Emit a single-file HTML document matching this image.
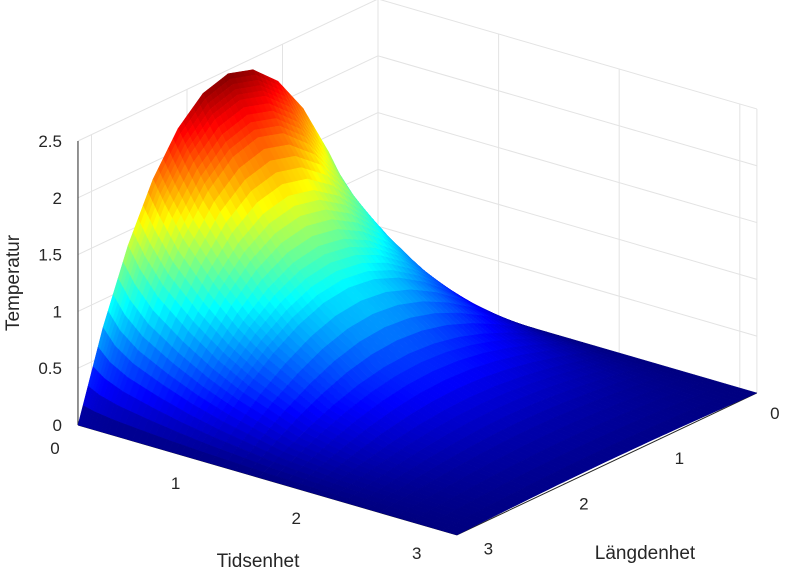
<!DOCTYPE html>
<html><head><meta charset="utf-8">
<style>
html,body{margin:0;padding:0;background:#fff;}
svg{display:block;font-family:"Liberation Sans",sans-serif;}
</style></head>
<body>
<svg id="chart" width="786" height="572" viewBox="0 0 786 572" xmlns="http://www.w3.org/2000/svg">
<g id="grid"></g>
<g id="axes"></g>
<g id="surf"></g>
<g id="labels"></g>
<text x="19" y="283" font-size="19" fill="#262626" text-anchor="middle" transform="rotate(-90 19 283)">Temperatur</text>
<text x="258" y="567" font-size="19" fill="#262626" text-anchor="middle">Tidsenhet</text>
<text x="645" y="559" font-size="19" fill="#262626" text-anchor="middle">Längdenhet</text>
</svg>
<script>
const timeValues = [0, 0.1, 0.25, 0.5, 0.75, 1, 1.5, 2, 2.5, 3.1416];
const lengthValues = [0,0.2618,0.5236,0.7854,1.0472,1.309,1.5708,1.8326,2.0944,2.3562,2.618,2.8798,3.1416];
const tempRow0 = [0,.754,1.371,1.851,2.193,2.399,2.467,2.399,2.193,1.851,1.371,.754,0];
const tempRow1 = [0,.623,1.190,1.656,1.995,2.198,2.266,2.198,1.995,1.656,1.190,.623,0];
const tempRow2 = [0,.513,.992,1.402,1.717,1.915,1.983,1.915,1.717,1.402,.992,.513,0];
const tempRow3 = [0,.400,.772,1.092,1.337,1.491,1.544,1.491,1.337,1.092,.772,.400,0];
const tempRow4 = [0,.305,.590,.834,1.021,1.139,1.179,1.139,1.021,.834,.590,.305,0];
const tempRow5 = [0,.230,.445,.629,.770,.860,.890,.860,.770,.629,.445,.230,0];
const tempRow6 = [0,.120,.232,.328,.402,.448,.464,.448,.402,.328,.232,.120,0];
const tempRow7 = [0,.060,.116,.164,.200,.224,.232,.224,.200,.164,.116,.060,0];
const tempRow8 = [0,.028,.054,.077,.094,.105,.109,.105,.094,.077,.054,.028,0];
const tempRow9 = [0,.006,.012,.017,.021,.023,.024,.023,.021,.017,.012,.006,0];
const tempMatrix = [tempRow0,tempRow1,tempRow2,tempRow3,tempRow4,tempRow5,tempRow6,tempRow7,tempRow8,tempRow9];
const zTicks = [0,0.5,1,1.5,2,2.5];
const zTickLabels = ["0","0.5","1","1.5","2","2.5"];
const tTicks = [0,1,2,3];
const lTicks = [0,1,2,3];

const NS="http://www.w3.org/2000/svg";
const PI=Math.PI, ZMAX=2.5;
function px(t,L,z){return [378+120.6*t-95.5*L, 283+35*t+45.2*L-113.6*z];}
function mk(tag,attrs,parent){const e=document.createElementNS(NS,tag);for(const k in attrs)e.setAttribute(k,attrs[k]);parent.appendChild(e);return e;}
function line(p,q,col,parent,name){const e=mk('line',{x1:p[0],y1:p[1],x2:q[0],y2:q[1],stroke:col,'stroke-width':1},parent);

}
const G=document.getElementById('grid'), A=document.getElementById('axes'), S=document.getElementById('surf'), T=document.getElementById('labels');
const gc="#e3e3e3";
zTicks.forEach(z=>{if(z>0){line(px(0,PI,z),px(0,0,z),gc,G,'grid-z-left');line(px(0,0,z),px(PI,0,z),gc,G,'grid-z-right');}});
lTicks.forEach(L=>{line(px(0,L,0),px(0,L,ZMAX),gc,G,'grid-l-wall');line(px(0,L,0),px(PI,L,0),gc,G,'grid-l-floor');});
tTicks.forEach(t=>{line(px(t,0,0),px(t,0,ZMAX),gc,G,'grid-t-wall');line(px(t,0,0),px(t,PI,0),gc,G,'grid-t-floor');});
line(px(PI,0,0),px(PI,0,ZMAX),gc,G,'grid-t-wall');
const ac="#262626";
line(px(0,PI,0),px(0,PI,ZMAX),ac,A,'z-axis-line');
line(px(0,PI,0),px(PI,PI,0),ac,A,'x-axis-line');
line(px(PI,PI,0),px(PI,0,0),ac,A,'y-axis-line');
function jet(v){v=Math.max(0,Math.min(1,v));
 const r=Math.max(0,Math.min(1,1.5-Math.abs(4*v-3))), g=Math.max(0,Math.min(1,1.5-Math.abs(4*v-2))), b=Math.max(0,Math.min(1,1.5-Math.abs(4*v-1)));
 return `rgb(${Math.round(r*255)},${Math.round(g*255)},${Math.round(b*255)})`;}
let zmax=0;tempMatrix.forEach(r=>r.forEach(v=>{if(v>zmax)zmax=v;}));
const quads=[];const SUB=5;
for(let i=0;i<timeValues.length-1;i++)for(let k=0;k<lengthValues.length-1;k++){
 const t0=timeValues[i],t1=timeValues[i+1],L0=lengthValues[k],L1=lengthValues[k+1];
 const z00=tempMatrix[i][k],z01=tempMatrix[i][k+1],z10=tempMatrix[i+1][k],z11=tempMatrix[i+1][k+1];
 for(let a=0;a<SUB;a++)for(let b=0;b<SUB;b++){
  const pts=[[a,b],[a+1,b],[a+1,b+1],[a,b+1]].map(([u,w])=>{u/=SUB;w/=SUB;
   const z=z00*(1-u)*(1-w)+z10*u*(1-w)+z01*(1-u)*w+z11*u*w;
   return {t:t0+(t1-t0)*u,L:L0+(L1-L0)*w,z};});
  const zc=pts.reduce((s,p)=>s+p.z,0)/4, tc=pts.reduce((s,p)=>s+p.t,0)/4, Lc=pts.reduce((s,p)=>s+p.L,0)/4;
  quads.push({pts,zc,d:35*tc+45.2*Lc});
 }}
quads.sort((p,q)=>p.d-q.d);
quads.forEach(q=>{const c=jet(q.zc/zmax);
 const e=mk('polygon',{points:q.pts.map(p=>px(p.t,p.L,p.z).map(v=>v.toFixed(1)).join(',')).join(' '),fill:c,stroke:c,'stroke-width':0.5,'stroke-linejoin':'round'},S);
 
 });
function txt(x,y,s,anchor,name){const e=mk('text',{x,y,'font-size':17,fill:ac,'text-anchor':anchor},T);e.textContent=s;
 
 }
zTicks.forEach((z,i)=>{const p=px(0,PI,z);txt(p[0]-16,p[1]+6,zTickLabels[i],'end','z-tick-label');});
tTicks.forEach(t=>{const p=px(t,PI,0);txt(p[0]-23,p[1]+29,String(t),'middle','x-tick-label');});
lTicks.forEach(L=>{const p=px(PI,L,0);txt(p[0]+18,p[1]+26,String(L),'middle','y-tick-label');});
</script>
</body></html>
